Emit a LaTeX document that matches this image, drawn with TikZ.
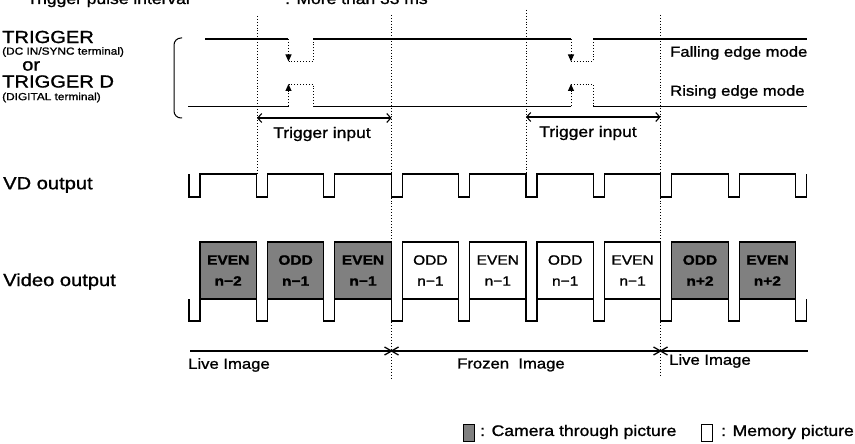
\documentclass[tikz,border=0pt]{standalone}
\usepackage{fontspec}
\setmainfont[FakeStretch=1.15, FakeBold=1.2]{Liberation Sans}
\usetikzlibrary{arrows.meta}

\begin{document}
\begin{tikzpicture}[x=1pt, y=-1pt, every node/.style={inner sep=0pt, anchor=west},
	big/.style={font=\fontsize{17.5}{20}\selectfont},
	mid/.style={font=\fontsize{15.2}{18}\selectfont},
	mode/.style={font=\fontsize{14.5}{17}\selectfont},
	sub/.style={font=\fontsize{10.3}{12}\selectfont},
	key/.style={font=\fontsize{15.3}{18}\selectfont},
	sig/.style={line width=1.6pt},
	wave/.style={line width=1.2pt},
	guide/.style={dotted, line width=0.9pt},
	edge/.style={dotted, line width=1pt, -{Triangle[length=7pt, width=6pt]}},
	span/.style={line width=1.1pt, {Straight Barb[length=4pt, width=9pt]}-{Straight Barb[length=4pt, width=9pt]}},
	field/.style={draw, line width=1.1pt, minimum width=56.4pt, minimum height=57pt, anchor=center, align=center, font=\fontsize{13.5}{21}\selectfont},
	live/.style={field, fill=black!50, font=\fontsize{13.5}{21}\selectfont\bfseries},
	mem/.style={field, fill=white},
	keybox/.style={draw, line width=0.8pt, minimum width=11pt, minimum height=17pt, anchor=north west}]
	\useasboundingbox (0,0) rectangle (855,444);
	% headline, cut by the page edge
	\node[mid, anchor=base west] (ivl) at (27,4) {Trigger pulse interval};
	\node[mid, anchor=base west] (ivlval) at (285,4) {: More than 33 ms};
	% guides
	\draw[guide] (257,16) -- (257,175);
	\draw[guide] (391.5,15) -- (391.5,378);
	\draw[guide] (526,10) -- (526,174);
	\draw[guide] (660.5,15) -- (660.5,376);
	% trigger inputs
	\node[big] (trg) at (2,37) {TRIGGER};
	\node[sub] (trgsub) at (2,52) {(DC IN/SYNC terminal)};
	\node[big] (or) at (22,66) {or};
	\node[big] (trgd) at (2,81.5) {TRIGGER D};
	\node[sub] (trgdsub) at (2,97.5) {(DIGITAL terminal)};
	\draw[line width=1pt, rounded corners=7pt] (182,38) -- (174,38) -- (174,118) -- (182,118);
	\draw[sig] (205,39) -- (288,39);
	\draw[sig] (313,39) -- (571,39);
	\draw[sig] (593,39) -- (807,39);
	\draw[sig] (188,106.5) -- (289,106.5);
	\draw[sig] (313,106.5) -- (571,106.5);
	\draw[sig] (593,106.5) -- (807,106.5);
	\foreach \a/\b in {288.5/313, 571/593} {
		\draw[edge] (\a,39) -- (\a,61.5);
		\draw[guide] (\a,61.5) -- (\b,61.5) -- (\b,39);
		\draw[edge] (\a,106.5) -- (\a,84);
		\draw[guide] (\a,84) -- (\b,84) -- (\b,106.5);
	}
	\node[mode] (fall) at (670,53) {Falling edge mode};
	\node[mode] (rise) at (670,92) {Rising edge mode};
	\draw[span] (257,118) -- (391.5,118);
	\node[mid, anchor=center] (tin1) at (322,134) {Trigger input};
	\draw[span] (526,117) -- (660.5,117);
	\node[mid, anchor=center] (tin2) at (588,133) {Trigger input};
	% VD output
	\node[big] (vd) at (3,185) {VD output};
	\draw[wave] (189,174) \foreach \k in {0,...,9} { -- ({189+67.4*\k},174) -- ++(0,23) -- ++(11,0) -- ++(0,-23) };
	% video output
	\node[big] (video) at (3,281.5) {Video output};
	\foreach \f/\n/\s [count=\k from 0] in {EVEN/n−2/live, ODD/n−1/live, EVEN/n−1/live, ODD/n−1/mem, EVEN/n−1/mem, ODD/n−1/mem, EVEN/n−1/mem, ODD/n+2/live, EVEN/n+2/live}
		\node[\s] (fld\k) at ({189+67.4*\k+39.2},270.5) {\f\\\n};
	\draw[wave] (189,299) \foreach \k in {0,...,9} { -- ({189+67.4*\k},299) -- ++(0,22) -- ++(11,0) -- ++(0,-22) };
	% image state
	\draw[wave] (190,351) -- (808,351);
	\foreach \x in {391.5, 660.5}
		\draw[line width=1.3pt] (\x-7,347) -- (\x+7,355) (\x-7,355) -- (\x+7,347);
	\node[mode] (live1) at (188,365) {Live Image};
	\node[mode] (frozen) at (457,365) {Frozen\ \ Image};
	\node[mode] (live2) at (669,361) {Live Image};
	% legend
	\node[keybox, fill=black!50] (keylive) at (463,424) {};
	\node[key] (keylivetxt) at (480,432) {: Camera through picture};
	\node[keybox] (keymem) at (701,424) {};
	\node[key] (keymemtxt) at (721,432) {: Memory picture};
\end{tikzpicture}
\end{document}
